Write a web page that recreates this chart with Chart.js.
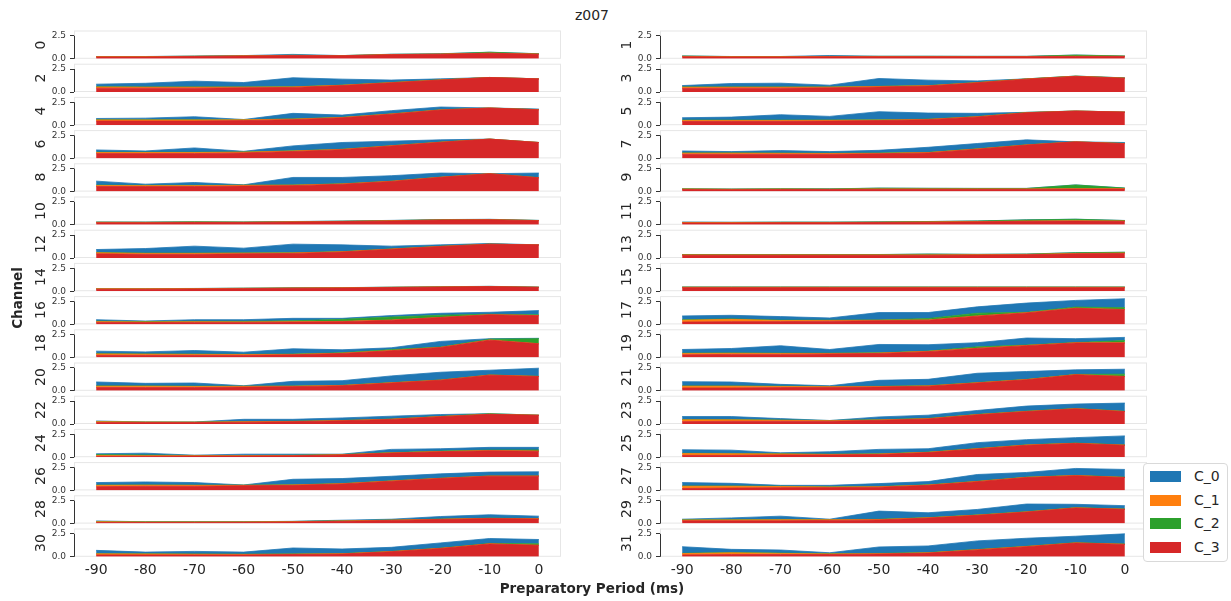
<!DOCTYPE html>
<html>
<head>
<meta charset="utf-8">
<script src="https://cdn.jsdelivr.net/npm/chart.js@4.4.1/dist/chart.umd.min.js"></script>
<style>
  body { margin: 0; background: #fff; width: 1231px; height: 601px; overflow: hidden; position: relative;
         font-family: "DejaVu Sans", sans-serif; color: #262626; }
  canvas { position: absolute; }
  .lbl { position: absolute; white-space: nowrap; transform: translate(-50%, -50%); line-height: 1; }
  .rot { transform: translate(-50%, -50%) rotate(-90deg); }
  #legend { position: absolute; left: 1143px; top: 463px; width: 83px; height: 97px;
            border: 1px solid #d9d9d9; border-radius: 4px; background: #fff; }
  .item { position: absolute; left: 6px; height: 12px; }
  .item span.sw { position: absolute; left: 0; top: 0; width: 31px; height: 11px; }
  .item span.tx { position: absolute; left: 44px; top: -2px; font-size: 14px; line-height: 14px; }
</style>
</head>
<body>
<div id="root"></div>
<div id="legend"></div>
<script>
// 1. DATA
const periods = [-90, -80, -70, -60, -50, -40, -30, -20, -10, 0];
const channels = [0, 1, 2, 3, 4, 5, 6, 7, 8, 9, 10, 11, 12, 13, 14, 15,
                  16, 17, 18, 19, 20, 21, 22, 23, 24, 25, 26, 27, 28, 29, 30, 31];
const seriesNames = ['C_0', 'C_1', 'C_2', 'C_3'];
const seriesColors = ['#1f77b4', '#ff7f0e', '#2ca02c', '#d62728'];
const yTicks = [0, 2.5];

// per channel, one row of 10 values (one per period)
const c0 = [
  [0.01,0.01,0.02,0.02,0.10,0.00,0.02,0.02,0.01,0.01],
  [0.01,0.01,0.01,0.10,0.01,0.01,0.01,0.01,0.01,0.01],
  [0.28,0.40,0.63,0.48,0.98,0.65,0.26,0.10,0.00,0.00],
  [0.15,0.37,0.41,0.19,0.85,0.59,0.17,0.00,0.00,0.01],
  [0.13,0.17,0.32,0.02,0.61,0.24,0.34,0.30,0.00,0.06],
  [0.26,0.33,0.59,0.40,0.89,0.66,0.34,0.01,0.00,0.00],
  [0.25,0.14,0.47,0.07,0.54,0.73,0.49,0.24,0.00,0.00],
  [0.21,0.14,0.27,0.18,0.30,0.55,0.57,0.53,0.00,0.10],
  [0.44,0.13,0.31,0.04,0.82,0.69,0.59,0.44,0.00,0.50],
  [0.01,0.01,0.01,0.01,0.01,0.01,0.01,0.01,0.01,0.01],
  [0.01,0.02,0.01,0.01,0.02,0.02,0.02,0.02,0.02,0.01],
  [0.04,0.02,0.01,0.01,0.01,0.01,0.01,0.01,0.01,0.01],
  [0.32,0.50,0.76,0.52,0.94,0.73,0.30,0.15,0.07,0.00],
  [0.01,0.01,0.01,0.01,0.01,0.01,0.01,0.01,0.01,0.01],
  [0.01,0.01,0.01,0.01,0.01,0.01,0.01,0.01,0.01,0.01],
  [0.01,0.01,0.01,0.01,0.01,0.01,0.01,0.01,0.01,0.01],
  [0.16,0.06,0.18,0.18,0.27,0.11,0.16,0.21,0.21,0.46],
  [0.42,0.39,0.39,0.24,0.81,0.65,0.69,1.00,0.72,0.97],
  [0.27,0.22,0.39,0.23,0.58,0.32,0.20,0.60,0.05,0.04],
  [0.40,0.49,0.81,0.40,0.91,0.69,0.45,0.76,0.42,0.34],
  [0.43,0.28,0.35,0.05,0.51,0.50,0.73,0.84,0.51,0.88],
  [0.46,0.43,0.20,0.08,0.65,0.69,1.01,0.85,0.49,0.54],
  [0.06,0.00,0.01,0.25,0.21,0.27,0.31,0.20,0.00,0.00],
  [0.33,0.33,0.16,0.00,0.30,0.35,0.42,0.55,0.48,0.89],
  [0.09,0.20,0.03,0.15,0.12,0.03,0.35,0.25,0.29,0.28],
  [0.38,0.36,0.10,0.26,0.48,0.36,0.63,0.56,0.59,0.98],
  [0.28,0.33,0.28,0.02,0.60,0.54,0.50,0.47,0.41,0.44],
  [0.37,0.29,0.10,0.16,0.32,0.35,0.73,0.50,0.75,0.84],
  [0.07,0.01,0.01,0.00,0.02,0.07,0.09,0.28,0.37,0.27],
  [0.07,0.19,0.36,0.04,0.89,0.52,0.59,0.83,0.36,0.36],
  [0.36,0.19,0.29,0.23,0.65,0.50,0.44,0.57,0.53,0.47],
  [0.72,0.35,0.34,0.10,0.70,0.72,0.93,0.87,0.70,1.11]
];
const c1 = [
  [0.03,0.03,0.02,0.02,0.02,0.01,0.01,0.01,0.01,0.01],
  [0.04,0.03,0.03,0.03,0.03,0.03,0.03,0.03,0.03,0.03],
  [0.12,0.10,0.10,0.08,0.05,0.03,0.02,0.01,0.00,0.00],
  [0.12,0.10,0.10,0.08,0.05,0.03,0.02,0.01,0.01,0.01],
  [0.12,0.12,0.12,0.08,0.06,0.04,0.02,0.01,0.00,0.00],
  [0.12,0.10,0.10,0.08,0.05,0.03,0.02,0.01,0.00,0.00],
  [0.12,0.12,0.12,0.08,0.05,0.03,0.02,0.01,0.00,0.00],
  [0.12,0.12,0.10,0.08,0.05,0.03,0.02,0.01,0.00,0.01],
  [0.12,0.10,0.10,0.08,0.05,0.03,0.02,0.01,0.00,0.00],
  [0.06,0.05,0.05,0.04,0.04,0.04,0.04,0.04,0.04,0.04],
  [0.05,0.04,0.03,0.03,0.02,0.02,0.02,0.01,0.01,0.01],
  [0.04,0.04,0.03,0.03,0.03,0.03,0.03,0.03,0.03,0.03],
  [0.12,0.10,0.10,0.08,0.05,0.03,0.02,0.01,0.00,0.00],
  [0.04,0.04,0.04,0.04,0.04,0.04,0.04,0.04,0.04,0.04],
  [0.04,0.04,0.03,0.03,0.03,0.02,0.02,0.02,0.01,0.01],
  [0.05,0.05,0.05,0.05,0.05,0.05,0.05,0.05,0.05,0.05],
  [0.08,0.06,0.06,0.05,0.04,0.03,0.02,0.01,0.01,0.01],
  [0.20,0.25,0.12,0.08,0.05,0.04,0.02,0.02,0.02,0.02],
  [0.15,0.12,0.10,0.08,0.05,0.03,0.02,0.01,0.01,0.01],
  [0.15,0.12,0.10,0.05,0.04,0.03,0.02,0.02,0.01,0.01],
  [0.15,0.15,0.12,0.08,0.05,0.03,0.02,0.01,0.01,0.01],
  [0.20,0.20,0.12,0.06,0.04,0.03,0.02,0.02,0.01,0.01],
  [0.10,0.06,0.05,0.04,0.03,0.02,0.02,0.01,0.01,0.01],
  [0.20,0.15,0.10,0.05,0.04,0.03,0.02,0.02,0.01,0.01],
  [0.08,0.06,0.04,0.03,0.03,0.02,0.02,0.02,0.02,0.02],
  [0.20,0.18,0.10,0.05,0.04,0.03,0.02,0.02,0.01,0.01],
  [0.15,0.12,0.10,0.05,0.04,0.03,0.02,0.01,0.01,0.01],
  [0.25,0.20,0.12,0.06,0.04,0.03,0.02,0.02,0.01,0.01],
  [0.08,0.05,0.04,0.04,0.03,0.03,0.02,0.02,0.02,0.02],
  [0.08,0.10,0.12,0.06,0.04,0.03,0.02,0.02,0.01,0.01],
  [0.12,0.10,0.08,0.06,0.04,0.03,0.02,0.02,0.01,0.01],
  [0.15,0.18,0.12,0.06,0.04,0.03,0.02,0.02,0.01,0.01]
];
const c2 = [
  [0.01,0.01,0.01,0.01,0.01,0.01,0.02,0.02,0.10,0.03],
  [0.04,0.01,0.01,0.01,0.02,0.02,0.01,0.01,0.12,0.02],
  [0.03,0.03,0.03,0.02,0.02,0.02,0.02,0.02,0.00,0.00],
  [0.03,0.03,0.03,0.02,0.02,0.02,0.02,0.02,0.02,0.02],
  [0.03,0.03,0.03,0.02,0.02,0.02,0.02,0.02,0.00,0.02],
  [0.03,0.03,0.03,0.03,0.03,0.03,0.03,0.03,0.00,0.00],
  [0.03,0.03,0.03,0.02,0.02,0.02,0.02,0.02,0.00,0.00],
  [0.03,0.03,0.03,0.03,0.03,0.03,0.03,0.03,0.00,0.02],
  [0.03,0.03,0.03,0.02,0.02,0.02,0.02,0.02,0.00,0.02],
  [0.02,0.02,0.03,0.03,0.08,0.06,0.05,0.05,0.40,0.06],
  [0.02,0.02,0.04,0.02,0.02,0.02,0.02,0.02,0.02,0.01],
  [0.02,0.02,0.03,0.03,0.03,0.04,0.06,0.12,0.17,0.05],
  [0.03,0.03,0.03,0.02,0.02,0.02,0.02,0.02,0.01,0.00],
  [0.03,0.03,0.03,0.03,0.03,0.08,0.03,0.03,0.08,0.08],
  [0.01,0.01,0.01,0.01,0.01,0.01,0.01,0.01,0.01,0.01],
  [0.02,0.02,0.02,0.02,0.02,0.02,0.02,0.02,0.02,0.02],
  [0.05,0.05,0.05,0.06,0.10,0.22,0.33,0.24,0.05,0.08],
  [0.05,0.05,0.04,0.03,0.03,0.15,0.30,0.05,0.12,0.20],
  [0.03,0.03,0.03,0.03,0.03,0.05,0.10,0.05,0.10,0.55],
  [0.03,0.03,0.03,0.03,0.03,0.03,0.15,0.05,0.03,0.25],
  [0.03,0.03,0.03,0.02,0.02,0.02,0.02,0.02,0.02,0.02],
  [0.03,0.03,0.03,0.03,0.03,0.03,0.03,0.03,0.03,0.25],
  [0.02,0.01,0.01,0.02,0.02,0.02,0.02,0.02,0.06,0.00],
  [0.03,0.03,0.03,0.03,0.03,0.03,0.03,0.03,0.03,0.03],
  [0.10,0.08,0.03,0.03,0.03,0.03,0.03,0.05,0.06,0.12],
  [0.03,0.03,0.03,0.03,0.03,0.03,0.03,0.03,0.03,0.03],
  [0.02,0.02,0.02,0.02,0.02,0.02,0.02,0.02,0.02,0.02],
  [0.03,0.03,0.03,0.03,0.03,0.03,0.03,0.03,0.03,0.03],
  [0.02,0.02,0.02,0.02,0.02,0.02,0.02,0.02,0.02,0.02],
  [0.03,0.03,0.03,0.03,0.03,0.03,0.03,0.03,0.03,0.03],
  [0.02,0.02,0.02,0.02,0.02,0.02,0.02,0.02,0.05,0.15],
  [0.03,0.03,0.03,0.03,0.03,0.03,0.03,0.03,0.03,0.03]
];
const c3 = [
  [0.20,0.20,0.25,0.30,0.35,0.33,0.45,0.50,0.60,0.50],
  [0.22,0.20,0.20,0.22,0.22,0.22,0.22,0.22,0.25,0.25],
  [0.42,0.42,0.42,0.45,0.50,0.70,1.00,1.30,1.58,1.43],
  [0.40,0.42,0.42,0.45,0.55,0.65,1.00,1.40,1.70,1.50],
  [0.45,0.45,0.45,0.50,0.60,0.80,1.20,1.65,1.87,1.68],
  [0.40,0.42,0.42,0.45,0.50,0.60,0.90,1.35,1.54,1.43],
  [0.52,0.52,0.52,0.60,0.75,0.95,1.35,1.75,2.10,1.73],
  [0.45,0.45,0.45,0.45,0.50,0.60,1.00,1.45,1.80,1.60],
  [0.55,0.55,0.55,0.60,0.65,0.80,1.10,1.55,1.95,1.50],
  [0.22,0.20,0.22,0.22,0.25,0.25,0.25,0.25,0.28,0.28],
  [0.22,0.22,0.25,0.25,0.30,0.35,0.42,0.52,0.55,0.45],
  [0.20,0.20,0.22,0.22,0.25,0.28,0.32,0.38,0.40,0.38],
  [0.45,0.40,0.40,0.45,0.50,0.65,0.95,1.25,1.50,1.43],
  [0.30,0.30,0.30,0.30,0.30,0.30,0.32,0.35,0.45,0.50],
  [0.22,0.22,0.25,0.28,0.32,0.35,0.40,0.45,0.50,0.42],
  [0.38,0.38,0.38,0.38,0.38,0.38,0.38,0.38,0.38,0.38],
  [0.22,0.20,0.22,0.22,0.25,0.30,0.45,0.75,1.05,0.95],
  [0.25,0.30,0.30,0.35,0.40,0.45,0.90,1.25,1.75,1.60],
  [0.25,0.25,0.25,0.25,0.30,0.45,0.75,1.10,1.90,1.50],
  [0.30,0.35,0.35,0.40,0.45,0.65,1.00,1.30,1.60,1.60],
  [0.35,0.35,0.35,0.40,0.45,0.55,0.85,1.15,1.70,1.55],
  [0.30,0.30,0.35,0.38,0.42,0.50,0.85,1.20,1.75,1.55],
  [0.15,0.15,0.15,0.20,0.25,0.35,0.50,0.80,1.05,0.95],
  [0.25,0.30,0.30,0.30,0.40,0.55,1.00,1.35,1.65,1.35],
  [0.10,0.10,0.12,0.12,0.15,0.25,0.45,0.60,0.70,0.65],
  [0.20,0.20,0.25,0.25,0.30,0.50,0.90,1.30,1.50,1.30],
  [0.40,0.45,0.45,0.50,0.55,0.70,1.00,1.30,1.55,1.55],
  [0.20,0.25,0.30,0.30,0.35,0.55,0.95,1.40,1.60,1.40],
  [0.12,0.12,0.13,0.14,0.18,0.25,0.35,0.45,0.55,0.50],
  [0.30,0.30,0.30,0.35,0.40,0.60,0.90,1.25,1.70,1.55],
  [0.20,0.20,0.20,0.20,0.25,0.30,0.55,0.90,1.40,1.25],
  [0.20,0.25,0.25,0.25,0.30,0.40,0.75,1.10,1.50,1.35]
];
const seriesValues = [c0, c1, c2, c3];
// bottom-to-top stacking as it appears in the picture
const stackOrder = [3, 1, 2, 0];

// 2. LAYOUT
const colLeft = [74, 660];
const frameW = 487;
const frameH = 28.3;
const firstTop = 30.5;
const rowStep = 33.2;
const axisW = 45;
const rightPad = 6;
const xMin = -94.5, xMax = 4.5, yMax = 3.08;

Chart.defaults.font.family = '"DejaVu Sans", sans-serif';
Chart.defaults.color = '#262626';

// light frame round the panel, dark left spine from 0 to 2.5 only
const panelFrame = {
  id: 'panelFrame',
  beforeDatasetsDraw(chart) {
    const { ctx, chartArea: a } = chart;
    ctx.save();
    ctx.strokeStyle = '#e6e6e6';
    ctx.lineWidth = 1;
    ctx.strokeRect(a.left + 0.5, a.top + 0.5, a.right - a.left - 1, a.bottom - a.top - 1);
    ctx.restore();
  },
  afterDatasetsDraw(chart) {
    const { ctx, chartArea: a, scales } = chart;
    const y = scales.y;
    ctx.save();
    ctx.strokeStyle = '#333';
    ctx.lineWidth = 1;
    ctx.beginPath();
    ctx.moveTo(Math.floor(a.left) + 0.5, y.getPixelForValue(yTicks[0]));
    ctx.lineTo(Math.floor(a.left) + 0.5, y.getPixelForValue(yTicks[yTicks.length - 1]));
    ctx.stroke();
    ctx.restore();
  }
};

const root = document.getElementById('root');

function addLabel(text, x, y, size, extra) {
  const d = document.createElement('div');
  d.className = 'lbl' + (extra && extra.rot ? ' rot' : '');
  d.textContent = text;
  d.style.left = x + 'px';
  d.style.top = y + 'px';
  d.style.fontSize = size + 'px';
  if (extra && extra.bold) d.style.fontWeight = 'bold';
  document.body.appendChild(d);
}

function buildPanel(ch) {
  const col = ch % 2;
  const row = Math.floor(ch / 2);
  const bottomRow = row === 15;
  const frameTop = firstTop + row * rowStep;
  const canvasTop = Math.floor(frameTop) - 6;
  const padTop = frameTop - canvasTop;
  const xH = bottomRow ? 26 : 0;
  const canvasH = Math.ceil(padTop + frameH + xH + 3);
  const padBottom = canvasH - padTop - frameH - xH;

  const canvas = document.createElement('canvas');
  canvas.width = axisW + frameW + rightPad;
  canvas.height = canvasH;
  canvas.style.left = (colLeft[col] - axisW) + 'px';
  canvas.style.top = canvasTop + 'px';
  root.appendChild(canvas);

  const datasets = stackOrder.map((s, k) => ({
    label: seriesNames[s],
    data: periods.map((p, i) => ({ x: p, y: seriesValues[s][ch][i] })),
    backgroundColor: seriesColors[s],
    borderColor: seriesColors[s],
    borderWidth: 0.8,
    pointRadius: 0,
    tension: 0,
    fill: k === 0 ? 'origin' : '-1'
  }));

  new Chart(canvas, {
    type: 'line',
    data: { datasets: datasets },
    options: {
      responsive: false,
      animation: false,
      devicePixelRatio: 1,
      events: [],
      layout: { padding: { left: 0, right: rightPad, top: padTop, bottom: padBottom } },
      plugins: { legend: { display: false }, tooltip: { enabled: false } },
      scales: {
        x: {
          type: 'linear',
          min: xMin,
          max: xMax,
          display: bottomRow,
          grid: { display: false, drawTicks: false },
          border: { display: false },
          ticks: { font: { size: 14 }, color: '#262626', padding: 5, autoSkip: false, maxRotation: 0,
                   callback: v => String(v) },
          afterBuildTicks: s => { s.ticks = periods.map(v => ({ value: v })); },
          afterFit: s => { s.height = xH; s.paddingLeft = 0; s.paddingRight = 0; }
        },
        y: {
          type: 'linear',
          stacked: true,
          min: 0,
          max: yMax,
          grid: { drawOnChartArea: false, drawTicks: true, tickLength: 4, color: '#333' },
          border: { display: false },
          ticks: { font: { size: 9 }, color: '#333', padding: 4, autoSkip: false,
                   callback: v => v.toFixed(1) },
          afterBuildTicks: s => { s.ticks = yTicks.map(v => ({ value: v })); },
          afterFit: s => { s.width = axisW; s.paddingTop = 0; s.paddingBottom = 0; }
        }
      }
    },
    plugins: [panelFrame]
  });

  // channel number, rotated, left of the tick labels
  addLabel(String(channels[ch]), col === 0 ? 40 : 626, frameTop + frameH / 2, 14, { rot: true });
}

channels.forEach(buildPanel);

// 3. TEXTS
addLabel('z007', 592, 15, 14);
addLabel('Preparatory Period (ms)', 592, 589, 13.5, { bold: true });
addLabel('Channel', 18, 298, 13.5, { rot: true, bold: true });

// 4. LEGEND
const legend = document.getElementById('legend');
const legendRows = [13, 37, 60, 84];
seriesNames.forEach((name, i) => {
  const it = document.createElement('div');
  it.className = 'item';
  it.style.top = (legendRows[i] - 6) + 'px';
  it.innerHTML = '<span class="sw" style="background:' + seriesColors[i] + '"></span><span class="tx">' + name + '</span>';
  legend.appendChild(it);
});
</script>
</body>
</html>
